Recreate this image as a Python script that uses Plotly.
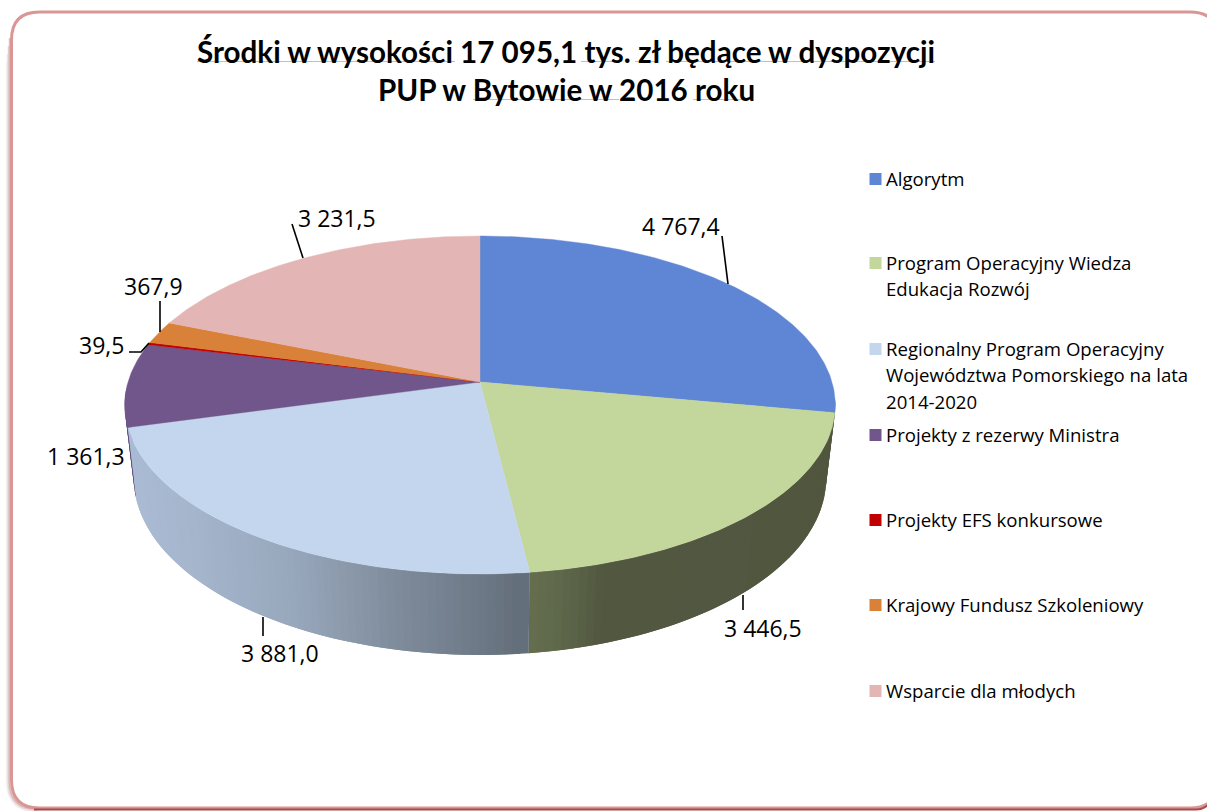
import math
import numpy as np
import plotly.graph_objects as go

# ---- data ----
categories = ["Algorytm", "Program Operacyjny Wiedza Edukacja Rozwój",
              "Regionalny Program Operacyjny Województwa Pomorskiego na lata 2014-2020",
              "Projekty z rezerwy Ministra", "Projekty EFS konkursowe",
              "Krajowy Fundusz Szkoleniowy", "Wsparcie dla młodych"]
values = [4767.4, 3446.5, 3881.0, 1361.3, 39.5, 367.9, 3231.5]
value_labels = ["4 767,4", "3 446,5", "3 881,0", "1 361,3", "39,5", "367,9", "3 231,5"]
legend_lines = [["Algorytm"], ["Program Operacyjny Wiedza", "Edukacja Rozwój"],
                ["Regionalny Program Operacyjny", "Województwa Pomorskiego na lata", "2014-2020"],
                ["Projekty z rezerwy Ministra"], ["Projekty EFS konkursowe"],
                ["Krajowy Fundusz Szkoleniowy"], ["Wsparcie dla młodych"]]
title_lines = ["Środki w wysokości 17 095,1 tys. zł będące w dyspozycji",
               "PUP w Bytowie w 2016 roku"]

# ---- style / layout ----
top_colors = ["#5f86d4", "#c3d69b", "#c3d6ed", "#71568c", "#c00000", "#d98138", "#e3b5b4"]
BODY_FONT = "Open Sans"
TITLE_FONT = "Lato"
legend_y = [179, 263, 349, 435, 520, 605, 691]
label_pos = [(681, 226), (763, 628), (280, 653), (86, 456), (101, 345), (153, 286), (337, 218)]
leaders = [[(722, 236), (728, 284)], [(743, 595), (743, 610)], [(263, 617), (263, 636)], None,
           [(129, 352), (141, 352), (149, 343)], [(160, 301), (160, 332)], [(292, 224), (303, 258)]]
underlines = [(197, 455, 61.5), (581, 622, 61.5), (635, 658, 61.5), (666, 935, 61.5),
              (473, 619, 99.5), (693, 752, 99.5)]

# perspective projection of the pie disc
CX, CY, C = 480.0, 382.0, 0.136
R_TOP, K_TOP = 352.0, 165.9
R_LOW, K_LOW, CY_LOW = 343.0, 173.6, 454.0


def top_pt(t):
    u, v = math.sin(t), math.cos(t)
    w = 1 + C * v
    return CX + u * R_TOP / w, CY - K_TOP * v / w


def low_pt(t):
    u, v = math.sin(t), math.cos(t)
    w = 1 + C * v
    return CX + u * R_LOW / w, CY_LOW - K_LOW * v / w


def hex2rgb(h):
    return np.array([int(h[i:i + 2], 16) for i in (1, 3, 5)], float)


def grad(stops, x):
    xs = [s[0] for s in stops]
    cols = np.array([hex2rgb(s[1]) for s in stops])
    c = [np.interp(x, xs, cols[:, k]) for k in range(3)]
    return "rgb(%d,%d,%d)" % tuple(int(round(a)) for a in c)


wall_stops = {
    0: [(0, "#50553f"), (2000, "#50553f")],
    1: [(530, "#66714f"), (560, "#606a4c"), (610, "#525840"), (900, "#50553f")],
    2: [(130, "#aabbd4"), (200, "#a4b5cc"), (300, "#98a8bc"), (400, "#808d9d"),
        (500, "#6b7684"), (530, "#636d7a")],
    3: [(0, "#604a7b"), (2000, "#604a7b")],
}

total = sum(values)
edges = np.cumsum([0] + values) / total * 2 * math.pi

fig = go.Figure()


def poly(xs, ys, color, lw=0.0):
    fig.add_trace(go.Scatter(x=xs, y=ys, mode="lines", fill="toself", fillcolor=color,
                             line=dict(color=color, width=lw), hoverinfo="skip",
                             showlegend=False))


# side walls: visible part of the rim only; each strip overlaps the one after it,
# and strips are painted from the far end so that no seams show
for i in [3, 0, 1, 2]:
    a0, a1 = edges[i], edges[i + 1]
    a0 = max(a0, math.radians(95))
    a1 = min(a1, math.radians(268))
    if a1 <= a0:
        continue
    n = max(2, int((a1 - a0) / math.radians(1.2)))
    ts = np.linspace(a0, a1, n + 1)
    order = range(n - 1, -1, -1)
    for j in order:
        t0, t1 = ts[j], ts[j + 1]
        t_ext = ts[min(j + 2, n)]
        mid = np.linspace(t0, t_ext, 4)
        upper = [top_pt(t) for t in mid]
        lower = [low_pt(t) for t in mid[::-1]]
        p = upper + lower
        xm = (top_pt(t0)[0] + top_pt(t1)[0] + low_pt(t0)[0] + low_pt(t1)[0]) / 4
        poly([q[0] for q in p] + [p[0][0]], [q[1] for q in p] + [p[0][1]],
             grad(wall_stops[i], xm))

# top wedges
for i, col in enumerate(top_colors):
    ts = np.linspace(edges[i], edges[i + 1], max(3, int((edges[i + 1] - edges[i]) * 90)))
    pts = [top_pt(t) for t in ts]
    xs = [CX] + [q[0] for q in pts] + [CX]
    ys = [CY] + [q[1] for q in pts] + [CY]
    poly(xs, ys, col, 0.4)

# leader lines
for ld in leaders:
    if ld:
        fig.add_trace(go.Scatter(x=[q[0] for q in ld], y=[q[1] for q in ld], mode="lines",
                                 line=dict(color="#000000", width=1.6), hoverinfo="skip",
                                 showlegend=False))

# legend squares
fig.add_trace(go.Scatter(x=[875.5] * len(legend_y), y=legend_y, mode="markers",
                         marker=dict(symbol="square", size=12, color=top_colors),
                         hoverinfo="skip", showlegend=False))

ann = []
for txt, (x, y) in zip(value_labels, label_pos):
    ann.append(dict(x=x, y=y, text=txt, showarrow=False, xanchor="center", yanchor="middle",
                    font=dict(family=BODY_FONT, size=23, color="#000000")))
for lines, y0 in zip(legend_lines, legend_y):
    for k, line in enumerate(lines):
        ann.append(dict(x=884, y=y0 - 1 + k * 26.5, text=line, showarrow=False, xanchor="left",
                        yanchor="middle", font=dict(family=BODY_FONT, size=18.6, color="#000000")))
for line, y in zip(title_lines, (51, 89)):
    ann.append(dict(x=566, y=y, text="<b>%s</b>" % line, showarrow=False, xanchor="center",
                    yanchor="middle", font=dict(family=TITLE_FONT, size=29.6, color="#000000")))


def rrect(x0, y0, x1, y1, r):
    return (f"M{x0+r},{y0} L{x1-r},{y0} Q{x1},{y0} {x1},{y0+r} L{x1},{y1-r} Q{x1},{y1} {x1-r},{y1} "
            f"L{x0+r},{y1} Q{x0},{y1} {x0},{y1-r} L{x0},{y0+r} Q{x0},{y0} {x0+r},{y0} Z")


shapes = []
# soft shadow on the left side, then the frame, then the darker bottom edge
for off, op in [(4, 0.05), (3, 0.10), (2, 0.18), (1, 0.30)]:
    start = 30 + 8 * off
    shapes.append(dict(type="path",
                       path=f"M{10.5-off},{start} L{10.5-off},781 Q{10.5-off},{808+off} 38,{808+off}",
                       line=dict(color="#8c3a38", width=1.5), opacity=op, layer="below"))
shapes.append(dict(type="path", path=rrect(11.5, 12, 1218, 808, 28),
                   line=dict(color="#d99694", width=3), fillcolor="rgba(0,0,0,0)", layer="below"))
shapes.append(dict(type="path", path="M34,809.5 L1196,809.5 Q1204,809.5 1210,803",
                   line=dict(color="#a94a48", width=2), layer="below"))
for x0, x1, y in underlines:
    shapes.append(dict(type="line", x0=x0, x1=x1, y0=y, y1=y,
                       line=dict(color="#f7a8a8", width=1), layer="above"))

fig.update_layout(
    width=1207, height=811, margin=dict(l=0, r=0, t=0, b=0),
    paper_bgcolor="#ffffff", plot_bgcolor="#ffffff", showlegend=False,
    xaxis=dict(range=[0, 1207], visible=False, fixedrange=True),
    yaxis=dict(range=[811, 0], visible=False, fixedrange=True),
    annotations=ann, shapes=shapes,
)
fig.write_html("out.html",
               post_script="document.body.style.margin='0';document.body.style.overflow='hidden';",
               config={"displayModeBar": False})
